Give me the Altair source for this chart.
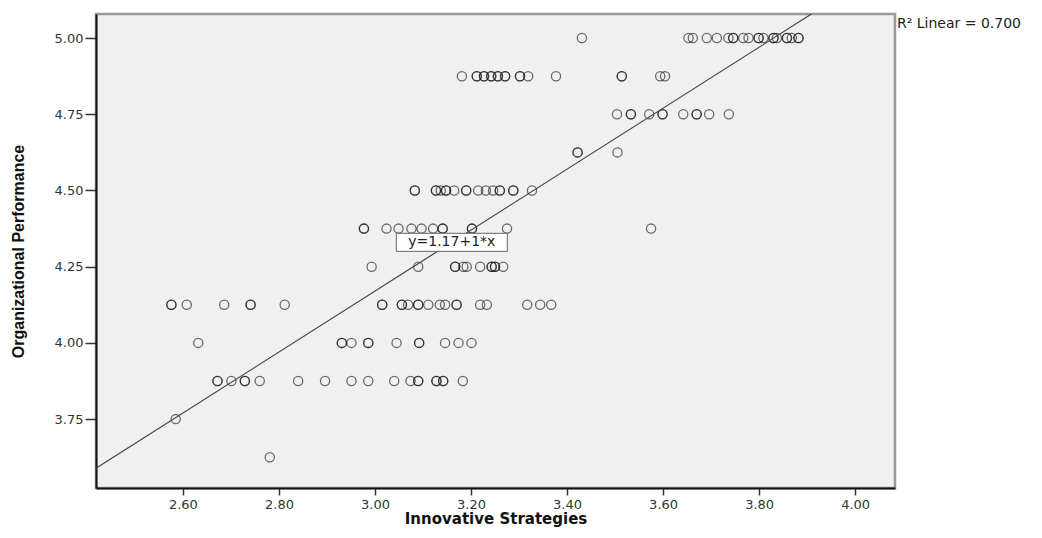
import altair as alt
import pandas as pd

# ---- data (x = Innovative Strategies per y level) ----
perf_levels = [5.000, 4.875, 4.750, 4.625, 4.500, 4.375, 4.250, 4.125, 4.000, 3.875, 3.750, 3.625]

x_at_5000 = [3.431, 3.653, 3.662, 3.691, 3.712, 3.736, 3.746, 3.746, 3.767, 3.778,
             3.799, 3.799, 3.809, 3.830, 3.830, 3.837, 3.858, 3.858, 3.868, 3.882, 3.882]
x_at_4875 = [3.181, 3.212, 3.212, 3.227, 3.227, 3.242, 3.242, 3.256, 3.256, 3.271, 3.271,
             3.302, 3.302, 3.319, 3.377, 3.514, 3.514, 3.594, 3.604]
x_at_4750 = [3.504, 3.533, 3.533, 3.571, 3.599, 3.599, 3.642, 3.670, 3.670, 3.696, 3.737]
x_at_4625 = [3.422, 3.422, 3.505]
x_at_4500 = [3.083, 3.083, 3.127, 3.127, 3.137, 3.148, 3.148, 3.165, 3.190, 3.190,
             3.215, 3.231, 3.246, 3.260, 3.260, 3.288, 3.288, 3.327]
x_at_4375 = [2.977, 2.977, 3.024, 3.049, 3.076, 3.097, 3.121, 3.141, 3.141,
             3.202, 3.202, 3.275, 3.575]
x_at_4250 = [2.993, 3.090, 3.167, 3.167, 3.184, 3.191, 3.219, 3.243, 3.243,
             3.250, 3.250, 3.267]
x_at_4125 = [2.576, 2.576, 2.608, 2.686, 2.741, 2.741, 2.812, 3.015, 3.015, 3.056, 3.056,
             3.069, 3.090, 3.090, 3.111, 3.135, 3.146, 3.170, 3.170, 3.219, 3.233,
             3.317, 3.344, 3.367]
x_at_4000 = [2.632, 2.931, 2.931, 2.951, 2.986, 2.986, 3.045, 3.092, 3.092, 3.146, 3.174, 3.201]
x_at_3875 = [2.672, 2.672, 2.701, 2.729, 2.729, 2.760, 2.840, 2.896, 2.951, 2.986, 3.040,
             3.074, 3.090, 3.090, 3.128, 3.128, 3.142, 3.142, 3.183]
x_at_3750 = [2.585]
x_at_3625 = [2.781]

x_rows = [x_at_5000, x_at_4875, x_at_4750, x_at_4625, x_at_4500, x_at_4375,
          x_at_4250, x_at_4125, x_at_4000, x_at_3875, x_at_3750, x_at_3625]

fit_intercept = 1.17
fit_slope = 1.0
fit_label = "y=1.17+1*x"
fit_label_x = 3.16
r2_label = "R\u00b2 Linear = 0.700"

x_domain = [2.419, 4.083]
y_domain = [3.524, 5.079]
x_ticks = [2.6, 2.8, 3.0, 3.2, 3.4, 3.6, 3.8, 4.0]
y_ticks = [3.75, 4.0, 4.25, 4.5, 4.75, 5.0]

rows = []
for yv, xs in zip(perf_levels, x_rows):
    for xv in xs:
        rows.append({"x": xv, "y": yv})
df = pd.DataFrame(rows)

line_df = pd.DataFrame({"x": x_domain})
line_df["y"] = fit_intercept + fit_slope * line_df["x"]

label_df = pd.DataFrame({"x": [fit_label_x], "y": [fit_intercept + fit_slope * fit_label_x],
                         "t": [fit_label]})

W, H = 799, 474
FONT = "DejaVu Sans"

xscale = alt.Scale(domain=x_domain, nice=False, zero=False)
yscale = alt.Scale(domain=y_domain, nice=False, zero=False)

xaxis = alt.Axis(values=x_ticks, format=".2f", title="Innovative Strategies", grid=False,
                 domainColor="#111", domainWidth=2, tickColor="#333", tickWidth=1.5,
                 tickSize=7, labelPadding=3, labelFont=FONT, labelFontSize=13,
                 labelColor="#333", titleFont=FONT, titleFontSize=15, titleFontWeight="bold",
                 titleColor="#111", titleY=30, titleBaseline="middle")
yaxis = alt.Axis(values=y_ticks, format=".2f", title="Organizational Performance", grid=False,
                 domainColor="#111", domainWidth=2, tickColor="#333", tickWidth=1.5,
                 tickSize=11, labelPadding=2, labelFont=FONT, labelFontSize=13,
                 labelColor="#333",
                 titleFont="Liberation Sans",
                 titleFontSize=16, titleFontWeight="bold", titleColor="#111",
                 titleX=-78, titleY=H / 2, titleAngle=270, titleAlign="center",
                 titleBaseline="middle")

points = alt.Chart(df).mark_point(
    shape="circle", filled=False, size=85, strokeWidth=1.3, color="#111", opacity=0.6
).encode(
    x=alt.X("x:Q", scale=xscale, axis=xaxis),
    y=alt.Y("y:Q", scale=yscale, axis=yaxis),
)

fit = alt.Chart(line_df).mark_line(color="#444", strokeWidth=1.2, clip=True).encode(
    x=alt.X("x:Q", scale=xscale), y=alt.Y("y:Q", scale=yscale))

box = alt.Chart(label_df).mark_rect(width=111, height=18, fill="white", stroke="#666",
                                    strokeWidth=1).encode(
    x=alt.X("x:Q", scale=xscale), y=alt.Y("y:Q", scale=yscale))

box_text = alt.Chart(label_df).mark_text(font=FONT, fontSize=14, color="#222").encode(
    x=alt.X("x:Q", scale=xscale), y=alt.Y("y:Q", scale=yscale), text="t:N")

r2 = alt.Chart(pd.DataFrame({"t": [r2_label]})).mark_text(
    font=FONT, fontSize=14, color="#222", align="left", baseline="middle"
).encode(x=alt.value(W + 2), y=alt.value(10), text="t:N")

chart = alt.layer(points, fit, box, box_text, r2).properties(
    width=W, height=H,
    autosize=alt.AutoSizeParams(type="none"),
    padding={"left": 88, "top": 6, "right": 130, "bottom": 42},
    background="white",
).configure_view(
    fill="#f0f0f0", stroke="#999", strokeWidth=2.5
)

chart.save("out.html", embed_options={"renderer": "svg", "actions": False})
